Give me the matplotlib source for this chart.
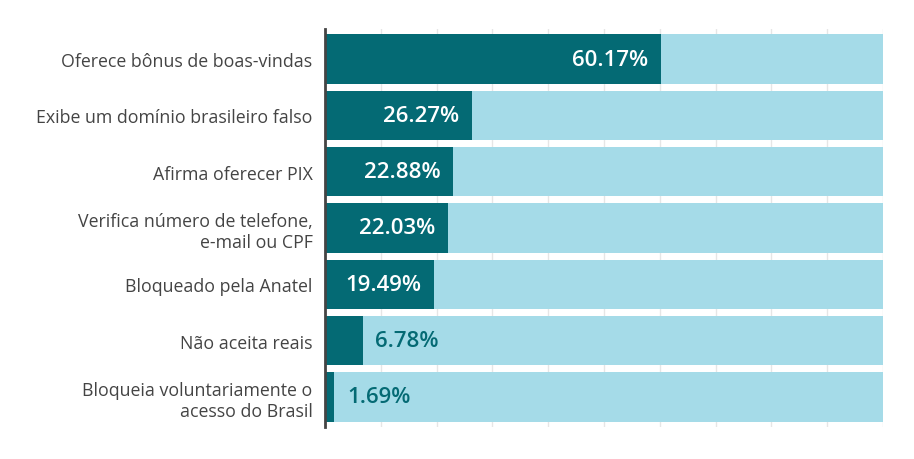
import numpy as np
import matplotlib.pyplot as plt

categories = ["Oferece bônus de boas-vindas",
              "Exibe um domínio brasileiro falso",
              "Afirma oferecer PIX",
              "Verifica número de telefone,\ne-mail ou CPF",
              "Bloqueado pela Anatel",
              "Não aceita reais",
              "Bloqueia voluntariamente o\nacesso do Brasil"]
values = [60.17, 26.27, 22.88, 22.03, 19.49, 6.78, 1.69]

dark = "#046a74"
light = "#a5dbe8"

plt.rcParams['font.family'] = ['Open Sans', 'DejaVu Sans']

fig = plt.figure(figsize=(9.14, 4.6), dpi=100)
ax = fig.add_axes([0.3556, 0.0696, 0.6105, 0.8652])

y = np.arange(len(categories))
ax.barh(y, [100]*len(y), height=0.88, color=light, zorder=2)
ax.barh(y, values, height=0.88, color=dark, zorder=3)

for yi, v in zip(y, values):
    txt = f"{v:.2f}%"
    if v > 15:
        ax.annotate(txt, (v, yi), xytext=(-9, 0), textcoords="offset points",
                    ha="right", va="center", color="white", fontsize=16,
                    fontweight="semibold", zorder=4)
    else:
        ax.annotate(txt, (v, yi), xytext=(9, 0), textcoords="offset points",
                    ha="left", va="center", color=dark, fontsize=16,
                    fontweight="semibold", zorder=4)

ax.set_xlim(0, 100)
ax.set_ylim(6.533, -0.533)
ax.set_xticks(np.arange(0, 101, 10))
ax.xaxis.grid(True, color="#e6e6e6", linewidth=1, zorder=0)
ax.tick_params(axis="x", length=0, labelbottom=False)
ax.set_yticks(y)
ax.set_yticklabels(categories, fontsize=12.8, color="#444444", ha="right",
                   linespacing=1.2, fontweight="medium")
ax.tick_params(axis="y", length=0, pad=9)
for s in ["top", "right", "bottom"]:
    ax.spines[s].set_visible(False)
ax.spines["left"].set_color("#444444")
ax.spines["left"].set_linewidth(2)
ax.spines["left"].set_zorder(5)

fig.savefig("out.png", dpi=100)
